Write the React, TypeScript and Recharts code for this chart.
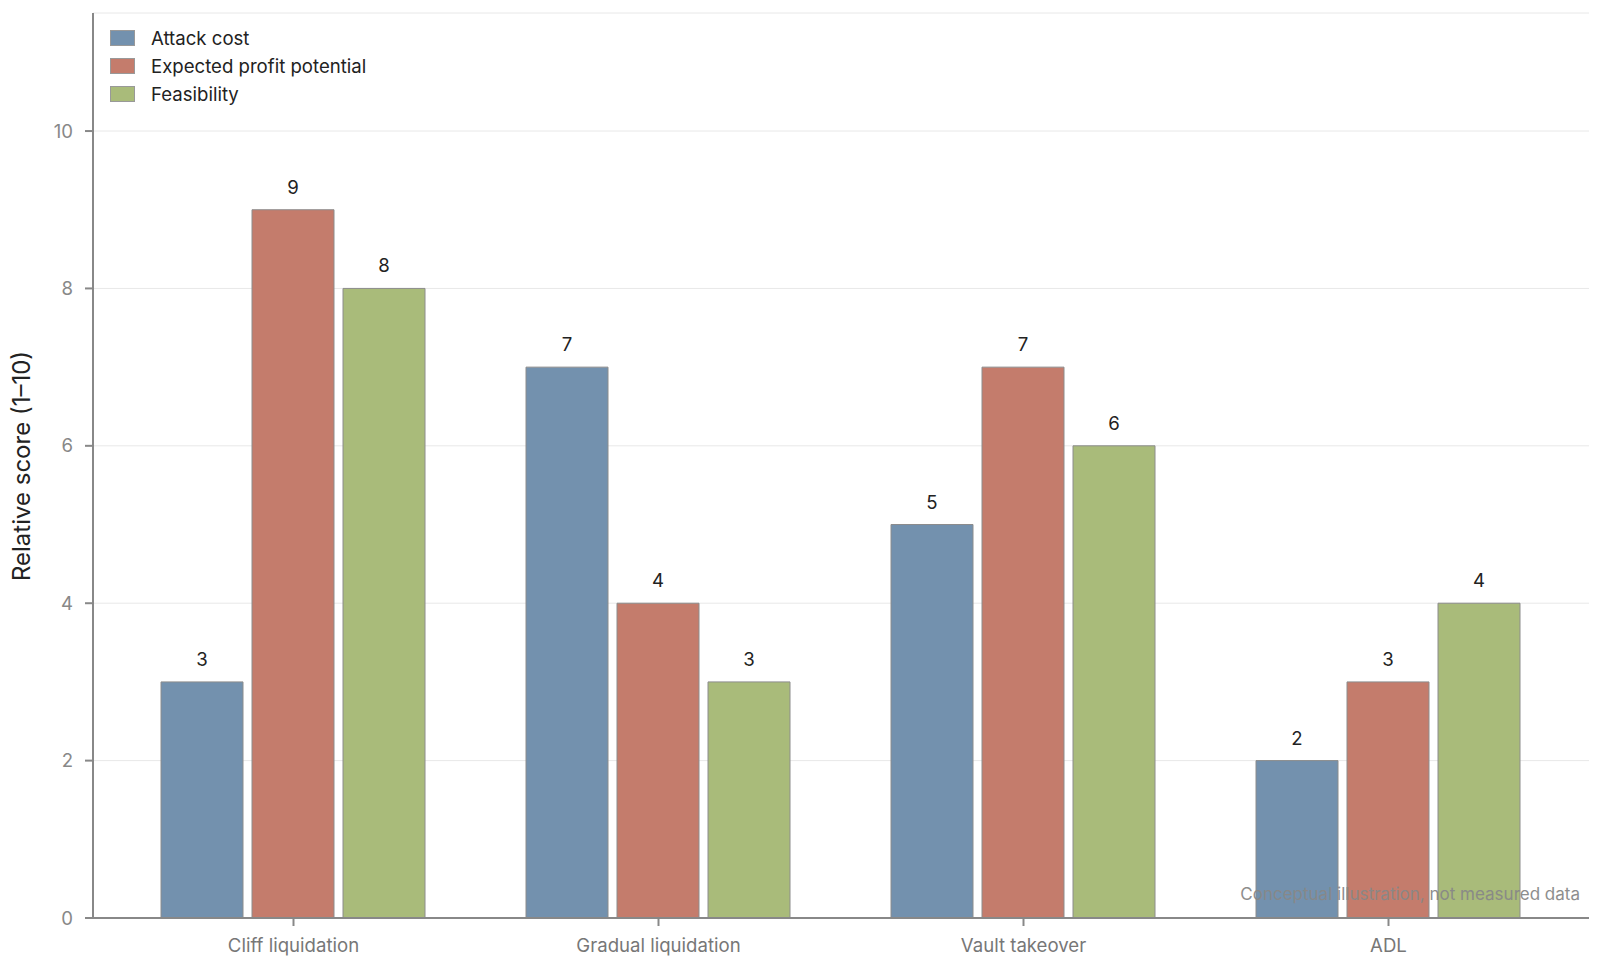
import { BarChart, Bar, XAxis, YAxis, CartesianGrid, LabelList } from 'recharts';

const categories = ['Cliff liquidation', 'Gradual liquidation', 'Vault takeover', 'ADL'];
const attackCost = [3, 7, 5, 2];
const profitPotential = [9, 4, 7, 3];
const feasibility = [8, 3, 6, 4];
const yTicks = [0, 2, 4, 6, 8, 10];

const series = [
  { key: 'attack', name: 'Attack cost', color: '#7391ae' },
  { key: 'profit', name: 'Expected profit potential', color: '#c47c6c' },
  { key: 'feas', name: 'Feasibility', color: '#a9bb7a' },
];

const data = categories.map((c, i) => ({
  name: c,
  attack: attackCost[i],
  profit: profitPotential[i],
  feas: feasibility[i],
}));

if (typeof document !== 'undefined') document.body.style.margin = '0';

const FONT = 'Inter, "Liberation Sans", Arial, sans-serif';

function LegendBox() {
  return (
    <div style={{ position: 'absolute', left: 110, top: 24, fontFamily: FONT }}>
      {series.map((s) => (
        <div key={s.key} style={{ display: 'flex', alignItems: 'center', height: 28 }}>
          <div
            style={{
              width: 23,
              height: 14,
              background: s.color,
              border: '1px solid #999',
              marginRight: 16,
            }}
          />
          <span style={{ fontSize: 18.6, color: '#222' }}>{s.name}</span>
        </div>
      ))}
    </div>
  );
}

export default function App() {
  return (
    <div style={{ position: 'relative', width: 1600, height: 969, background: '#fff', fontFamily: FONT }}>
      <BarChart
        width={1600}
        height={969}
        data={data}
        margin={{ top: 13, right: 11, left: 0, bottom: 0 }}
        barCategoryGap={50}
        barGap={9}
      >
        <CartesianGrid vertical={false} stroke="#e8e8e8" />
        <XAxis
          dataKey="name"
          height={51}
          padding={{ left: 18, right: 18 }}
          stroke="#888"
          strokeWidth={2}
          tickSize={8}
          tickMargin={13}
          tick={{ fill: '#777', fontSize: 18.6, fontFamily: FONT }}
        />
        <YAxis
          width={93}
          domain={[0, 11.5]}
          ticks={yTicks}
          stroke="#888"
          strokeWidth={2}
          tickSize={8}
          tickMargin={12}
          tick={{ fill: '#888', fontSize: 18.6, fontFamily: FONT }}
          label={{
            content: () => (
              <text
                x={21}
                y={466}
                transform="rotate(-90 21 466)"
                textAnchor="middle"
                dominantBaseline="central"
                fontSize={24}
                fill="#222"
                fontFamily={FONT}
              >
                Relative score (1–10)
              </text>
            ),
          }}
        />
        {series.map((s) => (
          <Bar
            key={s.key}
            dataKey={s.key}
            name={s.name}
            fill={s.color}
            stroke="#8c8c8c"
            strokeWidth={1}
            isAnimationActive={false}
          >
            <LabelList dataKey={s.key} position="top" offset={16} fill="#222" fontSize={18.6} fontFamily={FONT} />
          </Bar>
        ))}
      </BarChart>
      <LegendBox />
      <div
        style={{
          position: 'absolute',
          right: 20,
          top: 884,
          fontSize: 17,
          color: '#888',
          opacity: 0.95,
          whiteSpace: 'nowrap',
        }}
      >
        Conceptual illustration, not measured data
      </div>
    </div>
  );
}
